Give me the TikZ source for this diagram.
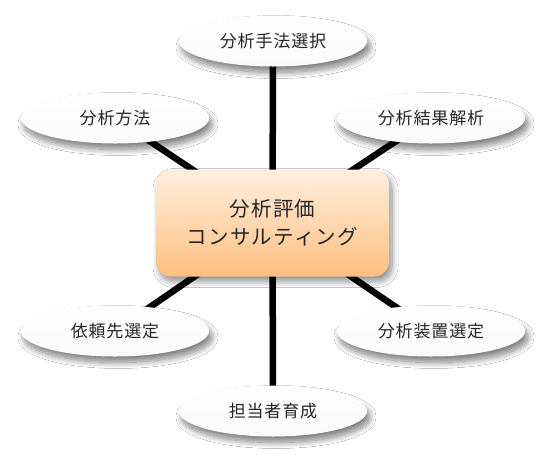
\documentclass[tikz,border=0pt]{standalone}
\usepackage{fontspec}
\newfontfamily\cjk[LetterSpace=5]{Noto Sans CJK JP}
\newfontfamily\cjkc[LetterSpace=6]{Noto Sans CJK JP}
\usetikzlibrary{shapes.geometric,shadows.blur,backgrounds}
\definecolor{boxtop}{HTML}{FFEFDF}
\definecolor{boxbot}{HTML}{FFBF7F}
\tikzset{
  leaf/.style={ellipse, minimum width=188pt, minimum height=51pt, inner sep=0pt,
    top color=white, bottom color=black!2, draw=none,
    blur shadow={shadow xshift=3pt, shadow yshift=-6pt, shadow blur steps=12, shadow blur radius=6pt, shadow opacity=50},
    font=\cjk\fontsize{17}{20}\selectfont, text=black!85},
  hub/.style={rectangle, rounded corners=15pt, minimum width=233pt, minimum height=107pt, inner sep=0pt,
    top color=boxtop, bottom color=boxbot, draw=none, align=center,
    blur shadow={shadow xshift=3pt, shadow yshift=-5pt, shadow blur steps=12, shadow blur radius=6pt, shadow opacity=45},
    font=\cjkc\fontsize{20.5}{28}\selectfont, text=black!85},
  spoke/.style={line width=6.5pt, black}
}
\begin{document}
\begin{tikzpicture}[x=1pt,y=-1pt]
\useasboundingbox (0,0) rectangle (546,467);
\node[leaf] (t)  at (273,41)  {分析手法選択};
\node[leaf] (tl) at (115,118) {分析方法};
\node[leaf] (tr) at (431,118) {分析結果解析};
\node[leaf] (bl) at (115,331) {依頼先選定};
\node[leaf] (br) at (431,331) {分析装置選定};
\node[leaf] (b)  at (273,411) {担当者育成};
\node[hub]  (c)  at (272.5,223) {分析評価\\コンサルティング};
\begin{scope}[on background layer]
\fill[white] (0,0) rectangle (546,467);
\foreach \n in {t,tl,tr,bl,br,b} \draw[spoke] (c.center) -- (\n.center);
\end{scope}
\end{tikzpicture}
\end{document}
